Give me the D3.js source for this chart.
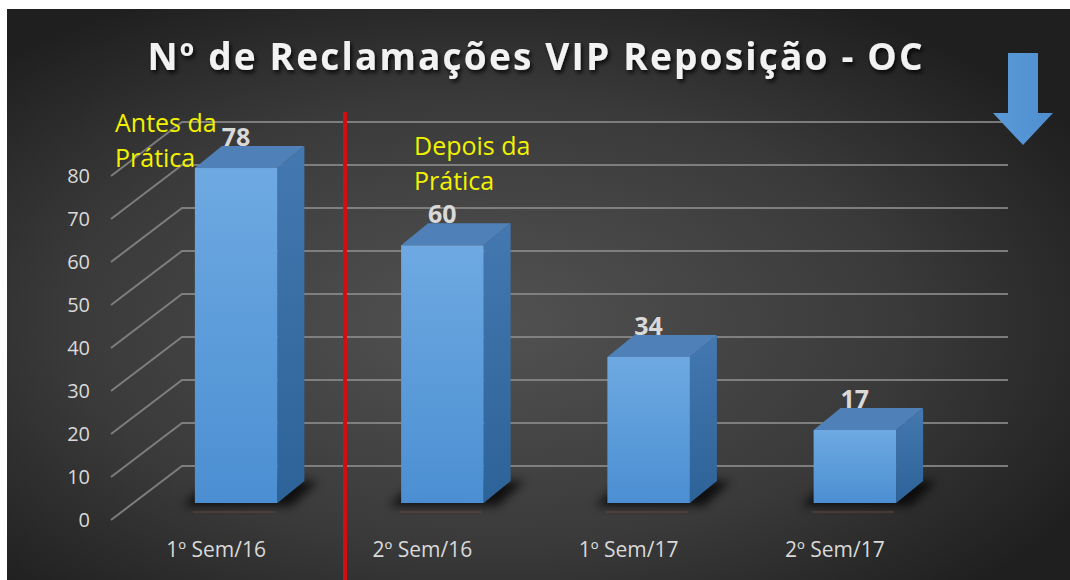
<!DOCTYPE html>
<html>
<head>
<meta charset="utf-8">
<script src="https://cdn.jsdelivr.net/npm/d3@7"></script>
<style>
  html, body { margin: 0; padding: 0; background: #fff; }
  svg { display: block; }
</style>
</head>
<body>
<div id="chart"></div>
<script>
const categories = ['1º Sem/16', '2º Sem/16', '1º Sem/17', '2º Sem/17'];
const values = [78, 60, 34, 17];
const yTicks = [0, 10, 20, 30, 40, 50, 60, 70, 80];
const titleText = 'Nº de Reclamações VIP Reposição - OC';
const notes = [
  { lines: ['Antes da', 'Prática'], x: 115, y: 132 },
  { lines: ['Depois da', 'Prática'], x: 414, y: 155 }
];

const width = 1070, height = 580;
const depthX = 27, depthY = 22;      // bar depth offset
const floorDX = 71, floorDY = 54;    // side wall depth

const svg = d3.select('#chart').append('svg')
  .attr('width', width)
  .attr('height', height);

const defs = svg.append('defs');

const bg = defs.append('radialGradient').attr('id', 'bg')
  .attr('cx', '45%').attr('cy', '55%').attr('r', '65%');
bg.append('stop').attr('offset', '0%').attr('stop-color', '#525252');
bg.append('stop').attr('offset', '60%').attr('stop-color', '#3a3a3a');
bg.append('stop').attr('offset', '100%').attr('stop-color', '#1f1f1f');

const front = defs.append('linearGradient').attr('id', 'front')
  .attr('x1', 0).attr('y1', 0).attr('x2', 0).attr('y2', 1);
front.append('stop').attr('offset', '0%').attr('stop-color', '#6ea9e2');
front.append('stop').attr('offset', '100%').attr('stop-color', '#4b8fd2');

const side = defs.append('linearGradient').attr('id', 'side')
  .attr('x1', 0).attr('y1', 0).attr('x2', 0).attr('y2', 1);
side.append('stop').attr('offset', '0%').attr('stop-color', '#4378b0');
side.append('stop').attr('offset', '100%').attr('stop-color', '#2e6399');

const arrowGrad = defs.append('linearGradient').attr('id', 'arrow')
  .attr('x1', 0).attr('y1', 0).attr('x2', 1).attr('y2', 0);
arrowGrad.append('stop').attr('offset', '0%').attr('stop-color', '#5a9ad8');
arrowGrad.append('stop').attr('offset', '100%').attr('stop-color', '#4f8fd0');

defs.append('filter').attr('id', 'blur')
  .attr('x', '-50%').attr('y', '-50%').attr('width', '200%').attr('height', '200%')
  .append('feGaussianBlur').attr('stdDeviation', 5);

const ts = defs.append('filter').attr('id', 'tshadow')
  .attr('x', '-10%').attr('y', '-30%').attr('width', '120%').attr('height', '160%');
ts.append('feDropShadow').attr('dx', 2).attr('dy', 3).attr('stdDeviation', 2)
  .attr('flood-color', '#000').attr('flood-opacity', 0.8);

// white margin then the dark chart area
svg.append('rect').attr('x', 7).attr('y', 9)
  .attr('width', width - 7).attr('height', height - 9)
  .attr('fill', 'url(#bg)');

// scales
const x = d3.scaleBand()
  .domain(categories)
  .range([133, 958])
  .paddingInner(0.6)
  .paddingOuter(0.3);

const y = d3.scaleLinear().domain([0, 90]).range([503, 116.5]);
const yGrid = d3.scaleLinear().domain([0, 80]).range([466, 122]);

const wallLeft = 182, wallRight = 1008;

// gridlines: back wall + side wall diagonals
const grid = svg.append('g')
  .attr('stroke', '#8a8a8a')
  .attr('stroke-width', 2)
  .attr('stroke-opacity', 0.85)
  .attr('fill', 'none');

grid.selectAll('path')
  .data(yTicks)
  .join('path')
  .attr('d', d => `M${wallLeft - floorDX},${yGrid(d) + floorDY} L${wallLeft},${yGrid(d)} L${wallRight},${yGrid(d)}`);

// y tick labels
svg.append('g').selectAll('text')
  .data(yTicks)
  .join('text')
  .attr('x', 90)
  .attr('y', d => yGrid(d) + floorDY + 7)
  .attr('text-anchor', 'end')
  .attr('font-family', 'Open Sans, sans-serif')
  .attr('font-size', 20)
  .attr('fill', '#d9d9d9')
  .text(d => d);

// bars
const bars = svg.append('g').selectAll('g')
  .data(values.map((v, i) => ({ v, c: categories[i] })))
  .join('g');

bars.append('path')
  .attr('d', d => {
    const x0 = x(d.c) - 12, x1 = x(d.c) + x.bandwidth() + depthX + 14, b = y(0);
    return `M${x0},${b + 3} L${x1 - depthX},${b + 3} L${x1},${b - depthY} L${x0 + depthX},${b - depthY} Z`;
  })
  .attr('fill', '#000')
  .attr('opacity', 0.75)
  .attr('filter', 'url(#blur)');

bars.append('path')
  .attr('d', d => {
    const x1 = x(d.c) + x.bandwidth(), t = y(d.v), b = y(0);
    return `M${x1},${t} L${x1 + depthX},${t - depthY} L${x1 + depthX},${b - depthY} L${x1},${b} Z`;
  })
  .attr('fill', 'url(#side)');

bars.append('path')
  .attr('d', d => {
    const x0 = x(d.c), x1 = x0 + x.bandwidth(), t = y(d.v);
    return `M${x0},${t} L${x0 + depthX},${t - depthY} L${x1 + depthX},${t - depthY} L${x1},${t} Z`;
  })
  .attr('fill', '#4f80b8');

bars.append('rect')
  .attr('x', d => x(d.c))
  .attr('y', d => y(d.v))
  .attr('width', x.bandwidth())
  .attr('height', d => y(0) - y(d.v))
  .attr('fill', 'url(#front)');

// faint floor reflection under each bar
bars.append('line')
  .attr('x1', d => x(d.c) - 2)
  .attr('x2', d => x(d.c) + x.bandwidth() - 2)
  .attr('y1', y(0) + 9).attr('y2', y(0) + 9)
  .attr('stroke', '#6a4a38')
  .attr('stroke-width', 2)
  .attr('stroke-opacity', 0.45);

// value labels
bars.append('text')
  .attr('x', d => x(d.c) + x.bandwidth() / 2)
  .attr('y', d => y(d.v) - 22)
  .attr('text-anchor', 'middle')
  .attr('font-family', 'Open Sans, sans-serif')
  .attr('font-weight', 'bold')
  .attr('font-size', 25)
  .attr('fill', '#d9d9d9')
  .text(d => d.v);

// category labels
svg.append('g').selectAll('text')
  .data(categories)
  .join('text')
  .attr('x', d => x(d) + x.bandwidth() / 2 - 20)
  .attr('y', 557)
  .attr('text-anchor', 'middle')
  .attr('font-family', 'Open Sans, sans-serif')
  .attr('font-size', 21)
  .attr('fill', '#d9d9d9')
  .text(d => d);

// red divider
svg.append('line')
  .attr('x1', 345).attr('x2', 345)
  .attr('y1', 112).attr('y2', height)
  .attr('stroke', '#d01010')
  .attr('stroke-width', 4);

// yellow notes
notes.forEach(n => {
  const t = svg.append('text')
    .attr('font-family', 'Open Sans, sans-serif')
    .attr('font-size', 25)
    .attr('fill', '#f2f200');
  n.lines.forEach((l, i) => {
    t.append('tspan').attr('x', n.x).attr('y', n.y + i * 35).text(l);
  });
});

// title
svg.append('text')
  .attr('x', 535)
  .attr('y', 70)
  .attr('text-anchor', 'middle')
  .attr('font-family', 'Open Sans, sans-serif')
  .attr('font-weight', 'bold')
  .attr('font-size', 37)
  .attr('textLength', 775)
  .attr('lengthAdjust', 'spacing')
  .attr('fill', '#f2f2f2')
  .attr('filter', 'url(#tshadow)')
  .text(titleText);

// down arrow
svg.append('path')
  .attr('d', 'M1008,53 L1038,53 L1038,113 L1053,113 L1023,145 L993,113 L1008,113 Z')
  .attr('fill', 'url(#arrow)');
</script>
</body>
</html>
